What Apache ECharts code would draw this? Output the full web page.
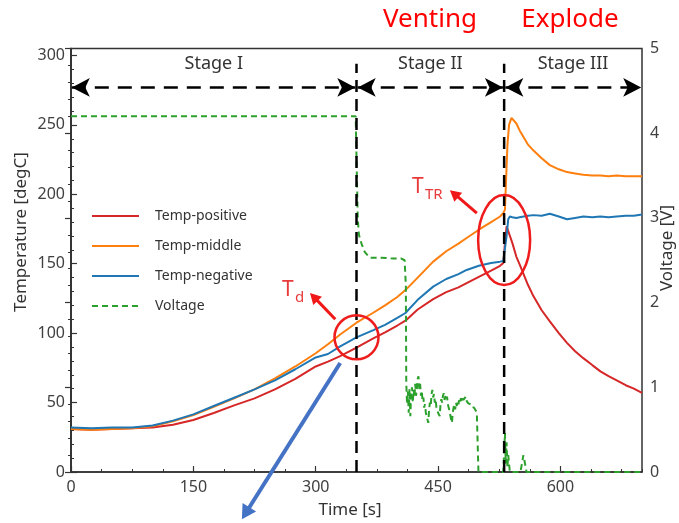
<!DOCTYPE html>
<html><head><meta charset="utf-8">
<script src="https://cdn.jsdelivr.net/npm/echarts@6/dist/echarts.min.js"></script>
<style>html,body{margin:0;padding:0;background:#fff}#c{width:679px;height:523px}</style>
</head><body><div id="c"></div>
<script>
// ---- data ----
const seriesNames = ['Temp-positive', 'Temp-middle', 'Temp-negative', 'Voltage'];
const xTickValues = [0, 150, 300, 450, 600];
const tempTickValues = [0, 50, 100, 150, 200, 250, 300];
const voltTickValues = [0, 1, 2, 3, 4, 5];

const timePos = [0,25,50,75,100,125,150,175,200,225,250,275,300,315,330,350,370,385,400,410,425,444,460,475,485,500,515,526,530,532,534,536,541,546,550,560,567,577,587,598,608,618,628,639,649,659,669,680,690,700];
const tempPos = [31,30.5,31,31.5,32,34,37.5,42.5,48,53,59.5,67,76,79.5,83.5,89.5,96,100.5,105.5,109,117,124.5,129.5,133,136,140.5,145,148.5,150.5,165,177,178,165,155,149.5,135,126.5,116.5,108.5,100,93,87,82,77,72.5,69,66,62.5,60,57];

const timeMid = [0,25,50,75,100,125,150,175,200,225,250,275,300,315,330,350,370,385,400,410,425,444,460,475,485,500,515,526,530,532,533,535,537,540,542,546,550,560,567,577,587,598,608,618,628,639,649,659,669,680,690,700];
const tempMid = [31,30.5,31,31.5,33,36.5,41,47,53,59.5,67.5,76,85.5,92,99,107.5,114.5,120,126,131,140,151.5,159,164.5,168.5,174.5,180,184,186.5,189,205,235,250,255,255.5,251,246,236,231.5,226,221,218,216,215,214,213.5,213.5,213,213.5,213,213,213];

const timeNeg = [0,25,50,75,100,125,150,175,200,225,250,275,300,315,330,350,370,385,400,410,425,444,460,475,485,500,515,526,530,532,534,536,538,541,546,550,560,567,577,587,598,608,618,628,639,649,659,669,680,690,700];
const tempNeg = [32,31.5,32,32,33.5,37,41.5,47.5,53.5,59.5,66,74,82.5,85,90.5,97,102,106,111,114.5,124,133.5,139,142.5,145.5,148.5,150.5,151.5,152,152.5,170,182,184,183.5,183,183.5,184.5,185,184.5,186,184,182,183,184,183.5,184,183.5,184,184.5,184.5,185.5];

const timeVolt = [0,349,350.5,351.5,353,356,360,366,380,395,405,409,410.5,
  411,412,413,414,415,416,417,418,419,420,421,422,423,424,425,426,427,428,429,430,
  431,432,433,434,435,436,437,438,439,440,441,442,443,444,445,446,447,448,449,450,
  451,452,453,454,455,456,457,458,459,460,461,462,463,464,465,466,467,468,469,470,
  471,472,473,474,475,476,477,478,479,480,481,482,483,484,485,486,487,488,489,490,
  491,492,493,494,495,496,497,497.5,499.5,530,532,533,534,535,536,538,551,554.6,558.5,700];
const voltage = [4.2,4.2,4.18,3.0,2.8,2.7,2.6,2.53,2.53,2.52,2.52,2.5,2.2,
  1.05,0.8,0.95,0.7,0.98,0.66,0.92,1.0,0.82,0.97,0.88,1.04,0.9,0.98,1.1,1.13,0.98,1.04,0.9,0.96,
  0.84,0.88,0.76,0.8,0.7,0.72,0.62,0.58,0.74,0.82,0.78,0.92,0.97,0.88,0.92,0.82,0.86,0.76,0.78,0.7,
  0.72,0.66,0.8,0.86,0.82,0.9,0.93,0.85,0.9,0.86,0.89,0.8,0.82,0.72,0.7,0.62,0.58,0.7,0.76,0.8,
  0.74,0.82,0.78,0.84,0.8,0.86,0.83,0.87,0.84,0.88,0.85,0.87,0.83,0.89,0.84,0.86,0.81,0.83,0.79,0.8,
  0.77,0.78,0.75,0.76,0.74,0.73,0.71,0.70,0,0,0.46,0.1,0.35,0.05,0.2,0,0,0.2,0,0];

const stageBounds = [350, 531];
const boundaryTop = 294;
const arrowLevel = 277;
const stageNames = ['Stage I', 'Stage II', 'Stage III'];
const eventNames = ['Venting', 'Explode'];
const tdPoint = [350, 97];
const ttrPoint = [531, 167];

// ---- chart ----
const FONT = 'Noto Sans';
const zip = (a, b) => a.map((v, i) => [v, b[i]]);
const axisCol = '#333';
const labelStyle = { color: '#404040', fontSize: 16, fontFamily: FONT };
const chart = echarts.init(document.getElementById('c'));

const boundarySeries = stageBounds.map((t, i) => ({
  type: 'line', name: 'bound' + i, xAxisIndex: 0, yAxisIndex: 0,
  data: [[t, 0], [t, boundaryTop]], symbol: 'none', z: 5,
  lineStyle: { color: '#000', width: 2.5, type: [12, 7] },
  silent: true
}));
const xEdges = [0].concat(stageBounds, [700]);
boundarySeries[0].markLine = {
  silent: true, symbol: ['arrow', 'arrow'], symbolSize: [14, 18],
  label: { show: false }, animation: false,
  lineStyle: { color: '#000', width: 2.5, type: [14, 9] },
  data: [0, 1, 2].map(i => [
    { coord: [xEdges[i] + (i === 0 ? 1 : 1.5), arrowLevel] },
    { coord: [xEdges[i + 1] - (i === 2 ? 1 : 1.5), arrowLevel] }
  ])
};

const option = {
  animation: false,
  grid: { left: 71, right: 37, top: 48.5, bottom: 51, show: true, borderColor: axisCol, borderWidth: 1.5 },
  legend: {
    data: seriesNames, orient: 'vertical', left: 86, top: 204,
    itemWidth: 47, itemHeight: 14, itemGap: 16,
    itemStyle: { color: 'rgba(0,0,0,0)', borderWidth: 0, opacity: 0 },
    textStyle: { fontSize: 14, color: '#333', fontFamily: FONT, padding: [0, 0, 0, 11] }
  },
  xAxis: [
    { type: 'value', min: 0, max: 700, interval: 150,
      axisLine: { show: true, lineStyle: { color: axisCol, width: 1.5 } },
      axisTick: { inside: true, length: 6, lineStyle: { color: axisCol, width: 1.2 } },
      axisLabel: Object.assign({ margin: 7, showMaxLabel: false,
        formatter: v => xTickValues.includes(v) ? String(v) : '' }, labelStyle),
      splitLine: { show: false } },
    { type: 'value', min: 0, max: 700, interval: 37.5, position: 'bottom',
      axisLine: { show: false }, axisTick: { inside: true, length: 3, lineStyle: { color: axisCol, width: 1 } },
      axisLabel: { show: false }, splitLine: { show: false } }
  ],
  yAxis: [
    { type: 'value', min: 0, max: 305, interval: 50, position: 'left',
      axisLine: { show: true, lineStyle: { color: axisCol, width: 1.5 } },
      axisTick: { inside: true, length: 6, lineStyle: { color: axisCol, width: 1.2 } },
      axisLabel: Object.assign({ margin: 6, showMaxLabel: false,
        formatter: v => tempTickValues.includes(v) ? String(v) : '' }, labelStyle),
      splitLine: { show: false } },
    { type: 'value', min: 0, max: 5, interval: 1, position: 'right',
      axisLine: { show: true, lineStyle: { color: axisCol, width: 1.5 } },
      axisTick: { inside: true, length: 6, lineStyle: { color: axisCol, width: 1.2 } },
      minorTick: { show: true, splitNumber: 5, length: 3, lineStyle: { color: axisCol, width: 1 } },
      axisLabel: Object.assign({ margin: 8,
        formatter: v => voltTickValues.includes(v) ? String(v) : '' }, labelStyle),
      splitLine: { show: false } },
    { type: 'value', min: 0, max: 305, interval: 10, position: 'left',
      axisLine: { show: false }, axisTick: { inside: true, length: 3, lineStyle: { color: axisCol, width: 1 } },
      axisLabel: { show: false }, splitLine: { show: false } }
  ],
  series: [
    { name: seriesNames[0], type: 'line', data: zip(timePos, tempPos), symbol: 'none', showSymbol: false, yAxisIndex: 0,
      lineStyle: { color: '#d62728', width: 2 }, itemStyle: { color: '#d62728' }, z: 3 },
    { name: seriesNames[1], type: 'line', data: zip(timeMid, tempMid), symbol: 'none', showSymbol: false, yAxisIndex: 0,
      lineStyle: { color: '#ff7f0e', width: 2 }, itemStyle: { color: '#ff7f0e' }, z: 3 },
    { name: seriesNames[2], type: 'line', data: zip(timeNeg, tempNeg), symbol: 'none', showSymbol: false, yAxisIndex: 0,
      lineStyle: { color: '#1f77b4', width: 2 }, itemStyle: { color: '#1f77b4' }, z: 3 },
    { name: seriesNames[3], type: 'line', data: zip(timeVolt, voltage), symbol: 'none', showSymbol: false, yAxisIndex: 1,
      lineStyle: { color: '#2ca02c', width: 2, type: [6, 4] }, itemStyle: { color: '#2ca02c' }, z: 3 }
  ].concat(boundarySeries)
};
chart.setOption(option);

// ---- annotations placed through the axes ----
const px = p => chart.convertToPixel({ xAxisIndex: 0, yAxisIndex: 0 }, p);
function arrowEls(p0, p1, color, w, hl, hw) {
  const dx = p1[0] - p0[0], dy = p1[1] - p0[1], L = Math.hypot(dx, dy), ux = dx / L, uy = dy / L;
  const bx = p1[0] - ux * hl, by = p1[1] - uy * hl, nx = -uy, ny = ux;
  return [
    { type: 'line', z: 20, shape: { x1: p0[0], y1: p0[1], x2: bx + ux * 2, y2: by + uy * 2 }, style: { stroke: color, lineWidth: w } },
    { type: 'polygon', z: 20, shape: { points: [[p1[0], p1[1]], [bx + nx * hw, by + ny * hw], [bx - nx * hw, by - ny * hw]] }, style: { fill: color } }
  ];
}
const red = '#f01818';
const g = [];
[430, 570].forEach((cx, i) => {
  g.push({ type: 'text', x: cx, y: 20, z: 20, style: { text: eventNames[i], fill: '#ff0000', fontSize: 26, fontFamily: FONT, align: 'center', verticalAlign: 'middle' } });
});
stageNames.forEach((s, i) => {
  const c = px([(xEdges[i] + xEdges[i + 1]) / 2, 0]);
  g.push({ type: 'text', x: c[0], y: 64, z: 20, style: { text: s, fill: '#333', fontSize: 18, fontFamily: FONT, align: 'center', verticalAlign: 'middle' } });
});
g.push({ type: 'text', x: 21, y: 232, rotation: Math.PI / 2, style: { text: 'Temperature [degC]', fill: '#333', fontSize: 17, fontFamily: FONT, align: 'center', verticalAlign: 'middle' } });
g.push({ type: 'text', x: 667, y: 248, rotation: Math.PI / 2, style: { text: 'Voltage [V]', fill: '#333', fontSize: 17, fontFamily: FONT, align: 'center', verticalAlign: 'middle' } });
g.push({ type: 'text', x: 350, y: 510, style: { text: 'Time [s]', fill: '#333', fontSize: 17, fontFamily: FONT, align: 'center', verticalAlign: 'middle' } });
const tdC = px(tdPoint);
g.push({ type: 'circle', z: 20, shape: { cx: tdC[0], cy: tdC[1], r: 22 }, style: { stroke: '#ee1c1c', fill: 'none', lineWidth: 2.5 } });
const ttrC = px(ttrPoint);
g.push({ type: 'ellipse', z: 20, shape: { cx: ttrC[0], cy: ttrC[1], rx: 26, ry: 45 }, style: { stroke: '#ee1c1c', fill: 'none', lineWidth: 2.5 } });
const tdTail = px([324, 110]), tdHead = px([293, 129]);
g.push(...arrowEls(tdTail, tdHead, red, 3, 11, 6));
const trTail = px([497.5, 186.5]), trHead = px([464.5, 203]);
g.push(...arrowEls(trTail, trHead, red, 3, 11, 6));
g.push({ type: 'text', z: 20, x: tdHead[0] - 28, y: tdHead[1] - 3, style: { text: 'T', fill: '#e83a3a', fontSize: 21, fontFamily: FONT, verticalAlign: 'middle' } });
g.push({ type: 'text', z: 20, x: tdHead[0] - 15, y: tdHead[1] + 5, style: { text: 'd', fill: '#e83a3a', fontSize: 15, fontFamily: FONT, verticalAlign: 'middle' } });
g.push({ type: 'text', z: 20, x: trHead[0] - 38, y: trHead[1] - 3, style: { text: 'T', fill: '#e83a3a', fontSize: 21, fontFamily: FONT, verticalAlign: 'middle' } });
g.push({ type: 'text', z: 20, x: trHead[0] - 25, y: trHead[1] + 5, style: { text: 'TR', fill: '#e83a3a', fontSize: 15, fontFamily: FONT, verticalAlign: 'middle' } });
const bTail = px([330, 78.5]), bHead = px([209.5, -34]);
g.push(...arrowEls(bTail, bHead, '#4472c4', 4, 14, 8));
chart.setOption({ graphic: { elements: g } });
</script>
</body></html>
